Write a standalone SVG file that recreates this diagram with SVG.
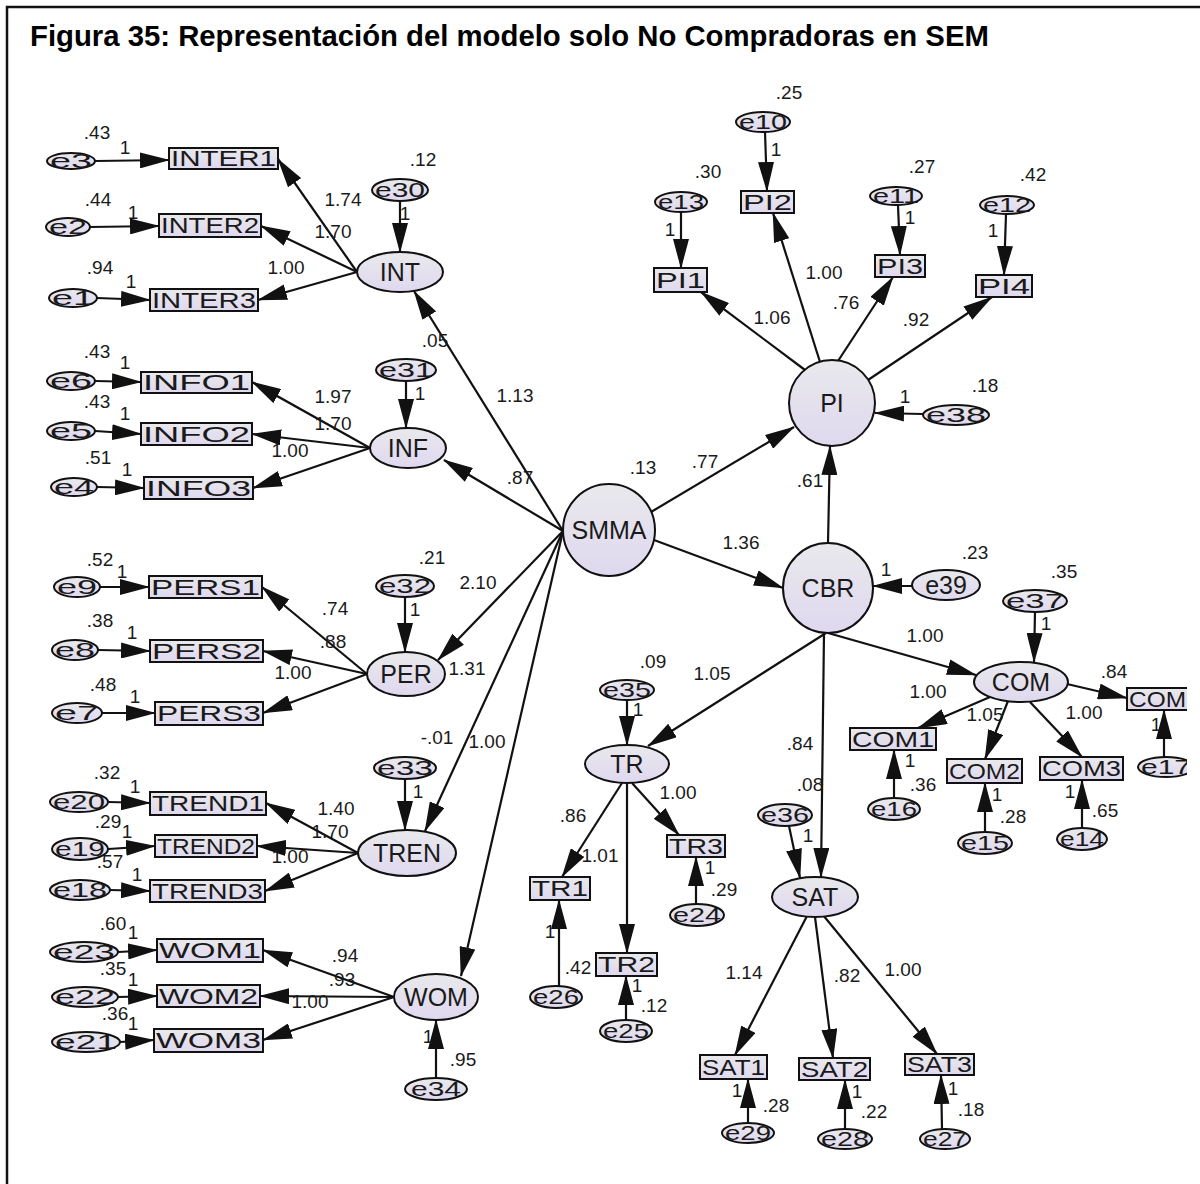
<svg xmlns="http://www.w3.org/2000/svg" width="1200" height="1184" viewBox="0 0 1200 1184">
<defs>
<linearGradient id="gr" x1="0" y1="0" x2="0" y2="1">
<stop offset="0" stop-color="#e9e9ec"/>
<stop offset="1" stop-color="#dfd8ef"/>
</linearGradient>
<marker id="ah" viewBox="0 0 30 16" markerWidth="30" markerHeight="16" markerUnits="userSpaceOnUse" refX="29" refY="8" orient="auto">
<path d="M0,0 L30,8 L0,16 z" fill="#111"/>
</marker>
<clipPath id="clip"><rect x="0" y="0" width="1187" height="1184"/></clipPath>
<style>
.n{fill:url(#gr);stroke:#111;stroke-width:2}
.c line{stroke:#111;stroke-width:2.2;marker-end:url(#ah)}
.t{font-family:"Liberation Sans",Arial,sans-serif;fill:#1a1a1a}
.lv{font-size:25px;text-anchor:middle}
.ov{font-size:22px}
.ev{font-size:21px}
.num{font-family:"Liberation Sans",Arial,sans-serif;fill:#1a1a1a;font-size:19px;text-anchor:middle}
</style>
</defs>
<rect x="0" y="0" width="1200" height="1184" fill="#fff"/>
<path d="M7,1184 L7,7 L1200,7" fill="none" stroke="#111" stroke-width="2.5"/>
<text x="30" y="46" font-family="'Liberation Sans',Arial,sans-serif" font-size="29.3" font-weight="bold" fill="#000">Figura 35: Representación del modelo solo No Compradoras en SEM</text>
<g clip-path="url(#clip)">
<g id="connectors" class="c">
<line x1="95" y1="161" x2="169" y2="160"/>
<line x1="90" y1="227" x2="159" y2="226"/>
<line x1="97" y1="298" x2="150" y2="300"/>
<line x1="95" y1="381" x2="141" y2="382"/>
<line x1="95" y1="431" x2="141" y2="434"/>
<line x1="97" y1="487" x2="144" y2="488"/>
<line x1="100" y1="587" x2="149" y2="587"/>
<line x1="98" y1="650" x2="150" y2="651"/>
<line x1="102" y1="713" x2="155" y2="713"/>
<line x1="108" y1="802" x2="150" y2="803"/>
<line x1="108" y1="849" x2="155" y2="846"/>
<line x1="110" y1="890" x2="150" y2="891"/>
<line x1="118" y1="952" x2="157" y2="950"/>
<line x1="118" y1="997" x2="157" y2="996"/>
<line x1="120" y1="1042" x2="154" y2="1040"/>
<line x1="357" y1="272" x2="278" y2="159"/>
<line x1="357" y1="272" x2="261" y2="226"/>
<line x1="357" y1="272" x2="258" y2="300"/>
<line x1="370" y1="448" x2="252" y2="382"/>
<line x1="370" y1="448" x2="252" y2="434"/>
<line x1="370" y1="448" x2="253" y2="488"/>
<line x1="367" y1="674" x2="262" y2="587"/>
<line x1="367" y1="674" x2="263" y2="651"/>
<line x1="367" y1="674" x2="263" y2="713"/>
<line x1="358" y1="853" x2="266" y2="803"/>
<line x1="358" y1="853" x2="257" y2="846"/>
<line x1="358" y1="853" x2="265" y2="891"/>
<line x1="394" y1="997" x2="263" y2="950"/>
<line x1="394" y1="997" x2="260" y2="996"/>
<line x1="394" y1="997" x2="263" y2="1040"/>
<line x1="400" y1="201" x2="400" y2="252"/>
<line x1="406" y1="381" x2="406" y2="428"/>
<line x1="405" y1="597" x2="405" y2="652"/>
<line x1="405" y1="779" x2="405" y2="830"/>
<line x1="436" y1="1078" x2="436" y2="1020"/>
<line x1="563" y1="531" x2="414" y2="291"/>
<line x1="563" y1="531" x2="444" y2="460"/>
<line x1="563" y1="531" x2="438" y2="660"/>
<line x1="563" y1="531" x2="425" y2="831"/>
<line x1="563" y1="531" x2="461" y2="976"/>
<line x1="651" y1="512" x2="794" y2="427"/>
<line x1="654" y1="540" x2="783" y2="588"/>
<line x1="805" y1="370" x2="701" y2="292"/>
<line x1="820" y1="362" x2="773" y2="213"/>
<line x1="838" y1="361" x2="893" y2="277"/>
<line x1="868" y1="380" x2="992" y2="297"/>
<line x1="681" y1="212" x2="681" y2="268"/>
<line x1="765" y1="132" x2="767" y2="191"/>
<line x1="898" y1="205" x2="900" y2="255"/>
<line x1="1006" y1="214" x2="1004" y2="275"/>
<line x1="923" y1="414" x2="875" y2="413"/>
<line x1="828" y1="543" x2="830" y2="446"/>
<line x1="912" y1="586" x2="873" y2="586"/>
<line x1="826" y1="633" x2="648" y2="746"/>
<line x1="824" y1="633" x2="821" y2="877"/>
<line x1="828" y1="633" x2="976" y2="675"/>
<line x1="1035" y1="612" x2="1034" y2="662"/>
<line x1="990" y1="697" x2="918" y2="728"/>
<line x1="1008" y1="701" x2="985" y2="759"/>
<line x1="1030" y1="702" x2="1082" y2="757"/>
<line x1="1067" y1="684" x2="1127" y2="698"/>
<line x1="894" y1="798" x2="894" y2="750"/>
<line x1="985" y1="832" x2="985" y2="783"/>
<line x1="1082" y1="828" x2="1082" y2="780"/>
<line x1="1164" y1="757" x2="1164" y2="710"/>
<line x1="627" y1="700" x2="627" y2="745"/>
<line x1="622" y1="783" x2="562" y2="877"/>
<line x1="627" y1="783" x2="627" y2="953"/>
<line x1="632" y1="783" x2="679" y2="835"/>
<line x1="696" y1="904" x2="696" y2="857"/>
<line x1="559" y1="986" x2="559" y2="900"/>
<line x1="626" y1="1020" x2="626" y2="976"/>
<line x1="789" y1="826" x2="800" y2="878"/>
<line x1="807" y1="916" x2="735" y2="1055"/>
<line x1="815" y1="917" x2="833" y2="1058"/>
<line x1="823" y1="915" x2="937" y2="1054"/>
<line x1="748" y1="1123" x2="748" y2="1079"/>
<line x1="845" y1="1129" x2="845" y2="1080"/>
<line x1="942" y1="1129" x2="941" y2="1075"/>
</g>
<g id="SMMA"><circle class="n" cx="609" cy="530" r="46"/><text class="t lv" x="609" y="539">SMMA</text></g>
<g id="PI"><circle class="n" cx="832" cy="403" r="43"/><text class="t lv" x="832" y="412">PI</text></g>
<g id="CBR"><circle class="n" cx="828" cy="588" r="45"/><text class="t lv" x="828" y="597">CBR</text></g>
<g id="INT"><ellipse class="n" cx="400" cy="272" rx="43" ry="20"/><text class="t lv" x="400" y="281">INT</text></g>
<g id="INF"><ellipse class="n" cx="408" cy="448" rx="38" ry="20"/><text class="t lv" x="408" y="457">INF</text></g>
<g id="PER"><ellipse class="n" cx="406" cy="674" rx="39" ry="22"/><text class="t lv" x="406" y="683">PER</text></g>
<g id="TREN"><ellipse class="n" cx="407" cy="853" rx="49" ry="23"/><text class="t lv" x="407" y="862">TREN</text></g>
<g id="WOM"><ellipse class="n" cx="436" cy="997" rx="42" ry="23"/><text class="t lv" x="436" y="1006">WOM</text></g>
<g id="COM"><ellipse class="n" cx="1021" cy="682" rx="47" ry="20"/><text class="t lv" x="1021" y="691">COM</text></g>
<g id="TR"><ellipse class="n" cx="627" cy="764" rx="42" ry="19"/><text class="t lv" x="627" y="773">TR</text></g>
<g id="SAT"><ellipse class="n" cx="815" cy="897" rx="43" ry="20"/><text class="t lv" x="815" y="906">SAT</text></g>
<g id="INTER1"><rect class="n" x="169" y="148" width="109" height="21"/><text class="t ov" x="171" y="166" textLength="105" lengthAdjust="spacingAndGlyphs">INTER1</text></g>
<g id="INTER2"><rect class="n" x="159" y="214" width="102" height="23"/><text class="t ov" x="161" y="233" textLength="98" lengthAdjust="spacingAndGlyphs">INTER2</text></g>
<g id="INTER3"><rect class="n" x="150" y="289" width="108" height="22"/><text class="t ov" x="152" y="308" textLength="104" lengthAdjust="spacingAndGlyphs">INTER3</text></g>
<g id="INFO1"><rect class="n" x="141" y="372" width="111" height="21"/><text class="t ov" x="143" y="390" textLength="107" lengthAdjust="spacingAndGlyphs">INFO1</text></g>
<g id="INFO2"><rect class="n" x="141" y="423" width="111" height="22"/><text class="t ov" x="143" y="442" textLength="107" lengthAdjust="spacingAndGlyphs">INFO2</text></g>
<g id="INFO3"><rect class="n" x="144" y="477" width="109" height="22"/><text class="t ov" x="146" y="496" textLength="105" lengthAdjust="spacingAndGlyphs">INFO3</text></g>
<g id="PERS1"><rect class="n" x="149" y="576" width="113" height="22"/><text class="t ov" x="151" y="595" textLength="109" lengthAdjust="spacingAndGlyphs">PERS1</text></g>
<g id="PERS2"><rect class="n" x="150" y="640" width="113" height="22"/><text class="t ov" x="152" y="659" textLength="109" lengthAdjust="spacingAndGlyphs">PERS2</text></g>
<g id="PERS3"><rect class="n" x="155" y="702" width="108" height="23"/><text class="t ov" x="157" y="721" textLength="104" lengthAdjust="spacingAndGlyphs">PERS3</text></g>
<g id="TREND1"><rect class="n" x="150" y="792" width="116" height="23"/><text class="t ov" x="152" y="811" textLength="112" lengthAdjust="spacingAndGlyphs">TREND1</text></g>
<g id="TREND2"><rect class="n" x="155" y="835" width="102" height="22"/><text class="t ov" x="157" y="854" textLength="98" lengthAdjust="spacingAndGlyphs">TREND2</text></g>
<g id="TREND3"><rect class="n" x="150" y="880" width="115" height="22"/><text class="t ov" x="152" y="899" textLength="111" lengthAdjust="spacingAndGlyphs">TREND3</text></g>
<g id="WOM1"><rect class="n" x="157" y="939" width="106" height="23"/><text class="t ov" x="159" y="958" textLength="102" lengthAdjust="spacingAndGlyphs">WOM1</text></g>
<g id="WOM2"><rect class="n" x="157" y="985" width="103" height="22"/><text class="t ov" x="159" y="1004" textLength="99" lengthAdjust="spacingAndGlyphs">WOM2</text></g>
<g id="WOM3"><rect class="n" x="154" y="1029" width="109" height="23"/><text class="t ov" x="156" y="1048" textLength="105" lengthAdjust="spacingAndGlyphs">WOM3</text></g>
<g id="PI1"><rect class="n" x="654" y="268" width="53" height="24"/><text class="t ov" x="656" y="288" textLength="49" lengthAdjust="spacingAndGlyphs">PI1</text></g>
<g id="PI2"><rect class="n" x="741" y="191" width="53" height="22"/><text class="t ov" x="743" y="210" textLength="49" lengthAdjust="spacingAndGlyphs">PI2</text></g>
<g id="PI3"><rect class="n" x="875" y="255" width="50" height="22"/><text class="t ov" x="877" y="274" textLength="46" lengthAdjust="spacingAndGlyphs">PI3</text></g>
<g id="PI4"><rect class="n" x="976" y="275" width="56" height="22"/><text class="t ov" x="978" y="294" textLength="52" lengthAdjust="spacingAndGlyphs">PI4</text></g>
<g id="COM1"><rect class="n" x="850" y="728" width="86" height="22"/><text class="t ov" x="852" y="747" textLength="82" lengthAdjust="spacingAndGlyphs">COM1</text></g>
<g id="COM2"><rect class="n" x="947" y="759" width="75" height="24"/><text class="t ov" x="949" y="779" textLength="71" lengthAdjust="spacingAndGlyphs">COM2</text></g>
<g id="COM3"><rect class="n" x="1040" y="757" width="83" height="23"/><text class="t ov" x="1042" y="776" textLength="79" lengthAdjust="spacingAndGlyphs">COM3</text></g>
<g id="COM4"><rect class="n" x="1127" y="688" width="80" height="22"/><text class="t ov" x="1129" y="707" textLength="57" lengthAdjust="spacingAndGlyphs">COM</text></g>
<g id="TR1"><rect class="n" x="530" y="877" width="60" height="23"/><text class="t ov" x="532" y="896" textLength="56" lengthAdjust="spacingAndGlyphs">TR1</text></g>
<g id="TR2"><rect class="n" x="596" y="953" width="61" height="23"/><text class="t ov" x="598" y="972" textLength="57" lengthAdjust="spacingAndGlyphs">TR2</text></g>
<g id="TR3"><rect class="n" x="667" y="835" width="58" height="22"/><text class="t ov" x="669" y="854" textLength="54" lengthAdjust="spacingAndGlyphs">TR3</text></g>
<g id="SAT1"><rect class="n" x="700" y="1055" width="67" height="24"/><text class="t ov" x="702" y="1075" textLength="63" lengthAdjust="spacingAndGlyphs">SAT1</text></g>
<g id="SAT2"><rect class="n" x="799" y="1058" width="71" height="22"/><text class="t ov" x="801" y="1077" textLength="67" lengthAdjust="spacingAndGlyphs">SAT2</text></g>
<g id="SAT3"><rect class="n" x="905" y="1054" width="69" height="21"/><text class="t ov" x="907" y="1072" textLength="65" lengthAdjust="spacingAndGlyphs">SAT3</text></g>
<g id="e3"><ellipse class="n" cx="71" cy="161" rx="24" ry="8"/><text class="t ev" x="50" y="168" textLength="42" lengthAdjust="spacingAndGlyphs">e3</text></g>
<g id="e2"><ellipse class="n" cx="68" cy="227" rx="22" ry="9"/><text class="t ev" x="49" y="234" textLength="38" lengthAdjust="spacingAndGlyphs">e2</text></g>
<g id="e1"><ellipse class="n" cx="73" cy="298" rx="24" ry="9"/><text class="t ev" x="52" y="305" textLength="42" lengthAdjust="spacingAndGlyphs">e1</text></g>
<g id="e6"><ellipse class="n" cx="71" cy="381" rx="24" ry="9"/><text class="t ev" x="50" y="388" textLength="42" lengthAdjust="spacingAndGlyphs">e6</text></g>
<g id="e5"><ellipse class="n" cx="71" cy="431" rx="24" ry="9"/><text class="t ev" x="50" y="438" textLength="42" lengthAdjust="spacingAndGlyphs">e5</text></g>
<g id="e4"><ellipse class="n" cx="74" cy="487" rx="23" ry="9"/><text class="t ev" x="54" y="494" textLength="40" lengthAdjust="spacingAndGlyphs">e4</text></g>
<g id="e9"><ellipse class="n" cx="77" cy="587" rx="23" ry="10"/><text class="t ev" x="57" y="594" textLength="40" lengthAdjust="spacingAndGlyphs">e9</text></g>
<g id="e8"><ellipse class="n" cx="75" cy="650" rx="23" ry="10"/><text class="t ev" x="55" y="657" textLength="40" lengthAdjust="spacingAndGlyphs">e8</text></g>
<g id="e7"><ellipse class="n" cx="77" cy="713" rx="25" ry="10"/><text class="t ev" x="55" y="720" textLength="44" lengthAdjust="spacingAndGlyphs">e7</text></g>
<g id="e20"><ellipse class="n" cx="79" cy="802" rx="29" ry="10"/><text class="t ev" x="53" y="809" textLength="52" lengthAdjust="spacingAndGlyphs">e20</text></g>
<g id="e19"><ellipse class="n" cx="80" cy="849" rx="28" ry="11"/><text class="t ev" x="55" y="856" textLength="50" lengthAdjust="spacingAndGlyphs">e19</text></g>
<g id="e18"><ellipse class="n" cx="80" cy="890" rx="30" ry="10"/><text class="t ev" x="53" y="897" textLength="54" lengthAdjust="spacingAndGlyphs">e18</text></g>
<g id="e23"><ellipse class="n" cx="84" cy="952" rx="34" ry="10"/><text class="t ev" x="53" y="959" textLength="62" lengthAdjust="spacingAndGlyphs">e23</text></g>
<g id="e22"><ellipse class="n" cx="85" cy="997" rx="33" ry="10"/><text class="t ev" x="55" y="1004" textLength="60" lengthAdjust="spacingAndGlyphs">e22</text></g>
<g id="e21"><ellipse class="n" cx="86" cy="1042" rx="34" ry="10"/><text class="t ev" x="55" y="1049" textLength="62" lengthAdjust="spacingAndGlyphs">e21</text></g>
<g id="e30"><ellipse class="n" cx="400" cy="190" rx="28" ry="11"/><text class="t ev" x="375" y="197" textLength="50" lengthAdjust="spacingAndGlyphs">e30</text></g>
<g id="e31"><ellipse class="n" cx="406" cy="370" rx="30" ry="11"/><text class="t ev" x="379" y="377" textLength="54" lengthAdjust="spacingAndGlyphs">e31</text></g>
<g id="e32"><ellipse class="n" cx="405" cy="586" rx="29" ry="11"/><text class="t ev" x="379" y="593" textLength="52" lengthAdjust="spacingAndGlyphs">e32</text></g>
<g id="e33"><ellipse class="n" cx="405" cy="768" rx="31" ry="11"/><text class="t ev" x="377" y="775" textLength="56" lengthAdjust="spacingAndGlyphs">e33</text></g>
<g id="e34"><ellipse class="n" cx="436" cy="1089" rx="31" ry="11"/><text class="t ev" x="411" y="1096" textLength="50" lengthAdjust="spacingAndGlyphs">e34</text></g>
<g id="e35"><ellipse class="n" cx="627" cy="690" rx="27" ry="10"/><text class="t ev" x="603" y="697" textLength="48" lengthAdjust="spacingAndGlyphs">e35</text></g>
<g id="e36"><ellipse class="n" cx="785" cy="815" rx="27" ry="11"/><text class="t ev" x="761" y="822" textLength="48" lengthAdjust="spacingAndGlyphs">e36</text></g>
<g id="e37"><ellipse class="n" cx="1035" cy="601" rx="32" ry="11"/><text class="t ev" x="1006" y="608" textLength="58" lengthAdjust="spacingAndGlyphs">e37</text></g>
<g id="e38"><ellipse class="n" cx="956" cy="415" rx="33" ry="10"/><text class="t ev" x="926" y="422" textLength="60" lengthAdjust="spacingAndGlyphs">e38</text></g>
<g id="e39"><ellipse class="n" cx="946" cy="585" rx="34" ry="15"/><text class="t lv" x="946" y="594" font-size="24">e39</text></g>
<g id="e10"><ellipse class="n" cx="763" cy="122" rx="27" ry="10"/><text class="t ev" x="739" y="129" textLength="48" lengthAdjust="spacingAndGlyphs">e10</text></g>
<g id="e11"><ellipse class="n" cx="896" cy="196" rx="26" ry="9"/><text class="t ev" x="873" y="203" textLength="46" lengthAdjust="spacingAndGlyphs">e11</text></g>
<g id="e12"><ellipse class="n" cx="1007" cy="205" rx="27" ry="9"/><text class="t ev" x="983" y="212" textLength="48" lengthAdjust="spacingAndGlyphs">e12</text></g>
<g id="e13"><ellipse class="n" cx="681" cy="202" rx="26" ry="10"/><text class="t ev" x="658" y="209" textLength="46" lengthAdjust="spacingAndGlyphs">e13</text></g>
<g id="e14"><ellipse class="n" cx="1082" cy="839" rx="25" ry="11"/><text class="t ev" x="1060" y="846" textLength="44" lengthAdjust="spacingAndGlyphs">e14</text></g>
<g id="e15"><ellipse class="n" cx="985" cy="843" rx="27" ry="11"/><text class="t ev" x="961" y="850" textLength="48" lengthAdjust="spacingAndGlyphs">e15</text></g>
<g id="e16"><ellipse class="n" cx="894" cy="809" rx="26" ry="11"/><text class="t ev" x="871" y="816" textLength="46" lengthAdjust="spacingAndGlyphs">e16</text></g>
<g id="e17"><ellipse class="n" cx="1166" cy="767" rx="28" ry="10"/><text class="t ev" x="1141" y="774" textLength="50" lengthAdjust="spacingAndGlyphs">e17</text></g>
<g id="e24"><ellipse class="n" cx="697" cy="915" rx="27" ry="11"/><text class="t ev" x="673" y="922" textLength="48" lengthAdjust="spacingAndGlyphs">e24</text></g>
<g id="e25"><ellipse class="n" cx="626" cy="1031" rx="26" ry="11"/><text class="t ev" x="603" y="1038" textLength="46" lengthAdjust="spacingAndGlyphs">e25</text></g>
<g id="e26"><ellipse class="n" cx="556" cy="997" rx="26" ry="11"/><text class="t ev" x="533" y="1004" textLength="46" lengthAdjust="spacingAndGlyphs">e26</text></g>
<g id="e27"><ellipse class="n" cx="945" cy="1139" rx="25" ry="10"/><text class="t ev" x="923" y="1146" textLength="44" lengthAdjust="spacingAndGlyphs">e27</text></g>
<g id="e28"><ellipse class="n" cx="845" cy="1139" rx="27" ry="10"/><text class="t ev" x="821" y="1146" textLength="48" lengthAdjust="spacingAndGlyphs">e28</text></g>
<g id="e29"><ellipse class="n" cx="748" cy="1133" rx="26" ry="10"/><text class="t ev" x="725" y="1140" textLength="46" lengthAdjust="spacingAndGlyphs">e29</text></g>
<g id="labels" class="num">
<text x="97" y="139">.43</text><text x="125" y="154">1</text>
<text x="98" y="206">.44</text><text x="133" y="219">1</text>
<text x="100" y="274">.94</text><text x="131" y="288">1</text>
<text x="423" y="166">.12</text><text x="405" y="220">1</text>
<text x="343" y="206">1.74</text><text x="333" y="238">1.70</text><text x="286" y="274">1.00</text>
<text x="435" y="347">.05</text><text x="515" y="402">1.13</text>
<text x="97" y="358">.43</text><text x="125" y="369">1</text>
<text x="97" y="408">.43</text><text x="125" y="420">1</text>
<text x="98" y="464">.51</text><text x="127" y="476">1</text>
<text x="420" y="400">1</text>
<text x="333" y="403">1.97</text><text x="333" y="430">1.70</text><text x="290" y="457">1.00</text>
<text x="520" y="484">.87</text>
<text x="100" y="566">.52</text><text x="122" y="578">1</text>
<text x="100" y="627">.38</text><text x="132" y="639">1</text>
<text x="103" y="691">.48</text><text x="135" y="703">1</text>
<text x="432" y="564">.21</text><text x="415" y="616">1</text>
<text x="335" y="615">.74</text><text x="333" y="648">.88</text><text x="293" y="679">1.00</text>
<text x="478" y="589">2.10</text><text x="467" y="675">1.31</text>
<text x="107" y="779">.32</text><text x="135" y="793">1</text>
<text x="108" y="828">.29</text><text x="127" y="838">1</text>
<text x="110" y="868">.57</text><text x="137" y="881">1</text>
<text x="437" y="744">-.01</text><text x="418" y="798">1</text><text x="487" y="748">1.00</text>
<text x="336" y="815">1.40</text><text x="330" y="838">1.70</text><text x="290" y="863">1.00</text>
<text x="113" y="930">.60</text><text x="133" y="939">1</text>
<text x="113" y="975">.35</text><text x="133" y="986">1</text>
<text x="115" y="1020">.36</text><text x="133" y="1030">1</text>
<text x="345" y="962">.94</text><text x="342" y="986">.93</text><text x="310" y="1008">1.00</text>
<text x="428" y="1043">1</text><text x="463" y="1066">.95</text>
<text x="643" y="474">.13</text><text x="705" y="468">.77</text><text x="741" y="549">1.36</text>
<text x="789" y="99">.25</text><text x="776" y="156">1</text>
<text x="708" y="178">.30</text><text x="670" y="236">1</text>
<text x="922" y="173">.27</text><text x="910" y="224">1</text>
<text x="1033" y="181">.42</text><text x="993" y="237">1</text>
<text x="772" y="324">1.06</text><text x="824" y="279">1.00</text><text x="846" y="309">.76</text><text x="916" y="326">.92</text>
<text x="905" y="403">1</text><text x="985" y="392">.18</text>
<text x="810" y="487">.61</text>
<text x="886" y="576">1</text><text x="975" y="559">.23</text>
<text x="1064" y="578">.35</text><text x="1046" y="630">1</text>
<text x="925" y="642">1.00</text><text x="1114" y="678">.84</text>
<text x="928" y="698">1.00</text><text x="985" y="721">1.05</text><text x="1084" y="719">1.00</text>
<text x="910" y="767">1</text><text x="923" y="791">.36</text>
<text x="997" y="801">1</text><text x="1013" y="823">.28</text>
<text x="1070" y="798">1</text><text x="1105" y="817">.65</text>
<text x="1156" y="731">1</text>
<text x="800" y="750">.84</text><text x="712" y="680">1.05</text>
<text x="653" y="668">.09</text><text x="638" y="716">1</text>
<text x="573" y="822">.86</text><text x="600" y="862">1.01</text><text x="678" y="799">1.00</text>
<text x="710" y="874">1</text><text x="724" y="896">.29</text>
<text x="550" y="938">1</text><text x="578" y="974">.42</text>
<text x="637" y="992">1</text><text x="654" y="1012">.12</text>
<text x="810" y="791">.08</text><text x="808" y="842">1</text>
<text x="744" y="979">1.14</text><text x="847" y="982">.82</text><text x="903" y="976">1.00</text>
<text x="737" y="1097">1</text><text x="776" y="1112">.28</text>
<text x="857" y="1098">1</text><text x="874" y="1118">.22</text>
<text x="953" y="1095">1</text><text x="971" y="1116">.18</text>
</g>
</g>
</svg>
